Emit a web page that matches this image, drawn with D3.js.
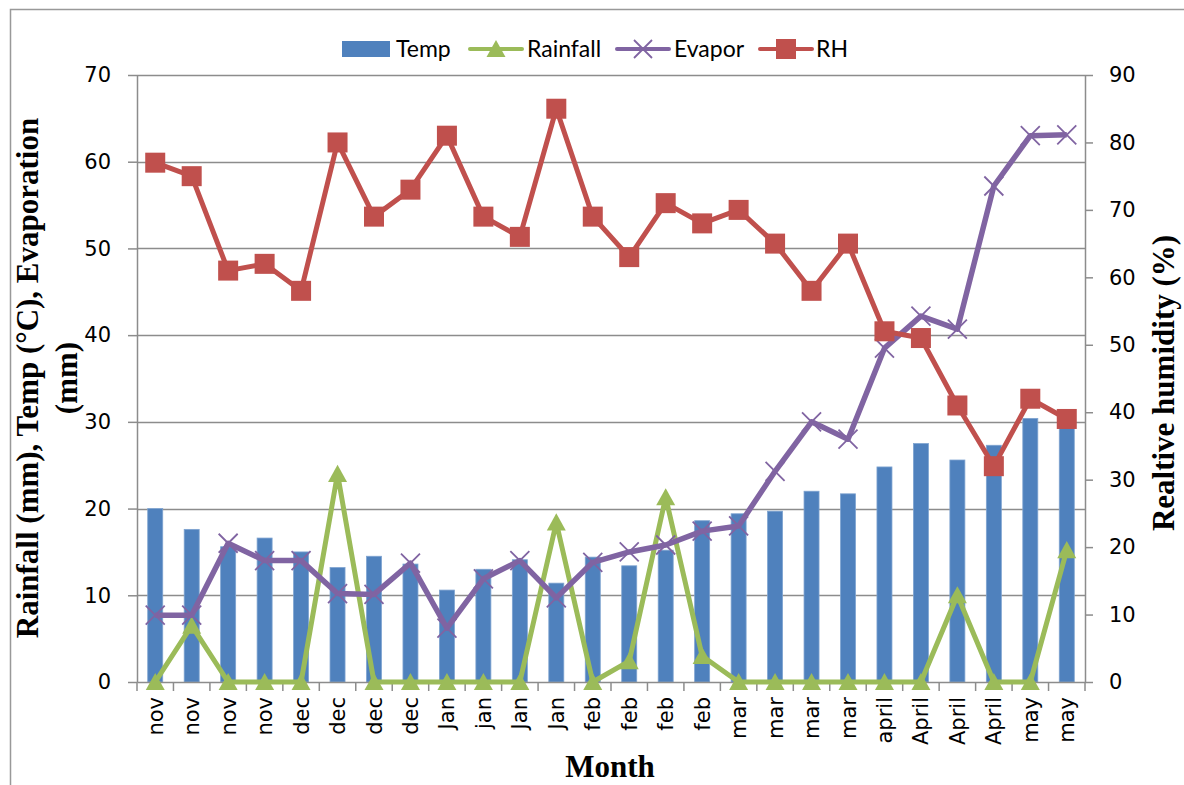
<!DOCTYPE html>
<html>
<head>
<meta charset="utf-8">
<script src="https://cdn.jsdelivr.net/npm/d3@7"></script>
<style>
  html, body { margin: 0; padding: 0; background: #fff; }
  svg { display: block; }
</style>
</head>
<body>
<svg id="chart" width="1184" height="785"></svg>
<script>
// ---- data ----
const categories = ["nov","nov","nov","nov","dec","dec","dec","dec","Jan","jan","Jan","Jan","feb","feb","feb","feb","mar","mar","mar","mar","april","April","April","April","may","may"];
const temp = [20.0,17.6,15.6,16.6,15.0,13.2,14.5,13.6,10.6,13.0,14.1,11.4,14.4,13.4,15.2,18.6,19.4,19.7,22.0,21.7,24.8,27.5,25.6,27.3,30.4,30.0];
const rainfall = [0,6.5,0,0,0,24.0,0,0,0,0,0,18.4,0,2.4,21.3,3.0,0,0,0,0,0,0,10.0,0,0,15.2];
const evapor = [7.7,7.7,16.0,14.0,14.0,10.2,10.1,13.7,6.2,11.9,14.0,9.7,13.8,15.0,15.8,17.4,18.0,24.3,30.0,28.0,38.5,42.2,40.7,57.2,63.0,63.1];
const rh = [77,75,61,62,58,80,69,73,81,69,66,85,69,63,71,68,70,65,58,65,52,51,41,32,42,39];
const leftTicks = [0,10,20,30,40,50,60,70];
const rightTicks = [0,10,20,30,40,50,60,70,80,90];
const seriesNames = ["Temp","Rainfall","Evapor","RH"];

// ---- layout ----
const svg = d3.select("#chart");
const L = 137, R = 1085, T = 75, B = 682;
const C = { temp:"#4F81BD", rain:"#9BBB59", evap:"#8064A2", rh:"#C0504D", axis:"#8C8C8C" };
const idx = categories.map((d,i)=>i);

const x = d3.scaleBand().domain(idx).range([L, R]).paddingInner(0).paddingOuter(0);
const yL = d3.scaleLinear().domain([0,70]).range([B, T]);
const yR = d3.scaleLinear().domain([0,90]).range([B, T]);
const cx = i => x(i) + x.bandwidth()/2;

// outer frame
svg.append("rect").attr("x",10.5).attr("y",9.5).attr("width",1200).attr("height",800)
  .attr("fill","none").attr("stroke","#999").attr("stroke-width",1.5);

// gridlines
svg.append("g").selectAll("line").data(leftTicks.filter(d=>d>0)).join("line")
  .attr("x1",L).attr("x2",R).attr("y1",d=>Math.round(yL(d))+0.5).attr("y2",d=>Math.round(yL(d))+0.5)
  .attr("stroke",C.axis).attr("stroke-width",1.5);

// bars
const bw = 15;
svg.append("g").selectAll("rect").data(temp).join("rect")
  .attr("x",(d,i)=>cx(i)-bw/2).attr("width",bw)
  .attr("y",d=>yL(d)).attr("height",d=>B-yL(d))
  .attr("fill",C.temp).attr("stroke","#7EA3D0").attr("stroke-width",0.8);

// axes
const axisStyle = g => {
  g.select(".domain").attr("stroke",C.axis).attr("stroke-width",1.5);
  g.selectAll(".tick line").attr("stroke",C.axis).attr("stroke-width",1.5);
  g.selectAll(".tick text").attr("fill","#000").attr("font-family","DejaVu Sans, Verdana, sans-serif").attr("font-size","21px");
};
const gL = svg.append("g").attr("transform",`translate(${L},0)`)
  .call(d3.axisLeft(yL).tickValues(leftTicks).tickSize(9).tickPadding(17).tickSizeOuter(0));
axisStyle(gL);
const gR = svg.append("g").attr("transform",`translate(${R},0)`)
  .call(d3.axisRight(yR).tickValues(rightTicks).tickSize(8).tickPadding(16).tickSizeOuter(0));
axisStyle(gR);

// x axis
const gX = svg.append("g").attr("transform",`translate(0,${B})`)
  .call(d3.axisBottom(x).tickFormat(i=>categories[i]).tickSize(0).tickSizeOuter(0));
gX.select(".domain").attr("stroke",C.axis).attr("stroke-width",1.5);
gX.selectAll(".tick text")
  .attr("font-family","DejaVu Sans, Verdana, sans-serif").attr("font-size","21px").attr("fill","#000")
  .attr("transform","rotate(-90)").attr("text-anchor","end").attr("dy","0.36em").attr("x",-15).attr("y",0);
// category boundary ticks
const bounds = d3.range(categories.length+1).map(i => i<categories.length ? x(i) : R);
svg.append("g").selectAll("line").data(bounds).join("line")
  .attr("x1",d=>d).attr("x2",d=>d).attr("y1",B).attr("y2",B+9)
  .attr("stroke",C.axis).attr("stroke-width",1.5);

// lines
const lineL = d3.line().x((d,i)=>cx(i)).y(d=>yL(d));
const lineR = d3.line().x((d,i)=>cx(i)).y(d=>yR(d));

function triPath(s){ const h=s*0.85; return `M0,${-h/2-1}L${s/2},${h/2}L${-s/2},${h/2}Z`; }
function xPath(s){ const h=s/2; return `M${-h},${-h}L${h},${h}M${-h},${h}L${h},${-h}`; }

// Rainfall
svg.append("path").datum(rainfall).attr("d",lineL).attr("fill","none")
  .attr("stroke",C.rain).attr("stroke-width",5).attr("stroke-linejoin","round");
svg.append("g").selectAll("path").data(rainfall).join("path")
  .attr("transform",(d,i)=>`translate(${cx(i)},${yL(d)})`).attr("d",triPath(19)).attr("fill",C.rain);

// Evapor
svg.append("path").datum(evapor).attr("d",lineL).attr("fill","none")
  .attr("stroke",C.evap).attr("stroke-width",5.5).attr("stroke-linejoin","round");
svg.append("g").selectAll("path").data(evapor).join("path")
  .attr("transform",(d,i)=>`translate(${cx(i)},${yL(d)})`).attr("d",xPath(19))
  .attr("stroke",C.evap).attr("stroke-width",1.8).attr("fill","none");

// RH
svg.append("path").datum(rh).attr("d",lineR).attr("fill","none")
  .attr("stroke",C.rh).attr("stroke-width",5).attr("stroke-linejoin","round");
svg.append("g").selectAll("rect").data(rh).join("rect")
  .attr("x",(d,i)=>cx(i)-10).attr("y",d=>yR(d)-10).attr("width",20).attr("height",20).attr("fill",C.rh);

// axis titles
const titleFont = "Liberation Serif, Times New Roman, serif";
svg.append("text").attr("transform",`translate(610,777)`).attr("text-anchor","middle")
  .attr("font-family",titleFont).attr("font-weight","bold").attr("font-size","31px").text("Month");
svg.append("text").attr("transform",`translate(38,378) rotate(-90)`).attr("text-anchor","middle")
  .attr("font-family",titleFont).attr("font-weight","bold").attr("font-size","31px").text("Rainfall (mm), Temp (°C), Evaporation");
svg.append("text").attr("transform",`translate(77,378) rotate(-90)`).attr("text-anchor","middle")
  .attr("font-family",titleFont).attr("font-weight","bold").attr("font-size","31px").text("(mm)");
svg.append("text").attr("transform",`translate(1174,383) rotate(-90)`).attr("text-anchor","middle")
  .attr("font-family",titleFont).attr("font-weight","bold").attr("font-size","31px").text("Realtive humidity (%)");

// legend
const lg = svg.append("g");
const ly = 49;
const legendFont = "Lato, Open Sans, sans-serif";
const items = [
  {name:seriesNames[0], x:342, tx:396, type:"bar"},
  {name:seriesNames[1], x:470, tx:527, type:"tri"},
  {name:seriesNames[2], x:617, tx:674, type:"x"},
  {name:seriesNames[3], x:760, tx:816, type:"sq"}
];
items.forEach(it=>{
  if(it.type==="bar"){
    lg.append("rect").attr("x",it.x).attr("y",ly-8).attr("width",48).attr("height",16).attr("fill",C.temp);
  } else {
    const col = it.type==="tri"?C.rain:it.type==="x"?C.evap:C.rh;
    lg.append("line").attr("x1",it.x).attr("x2",it.x+52).attr("y1",ly).attr("y2",ly)
      .attr("stroke",col).attr("stroke-width",4).attr("stroke-linecap","round");
    const m = lg.append("g").attr("transform",`translate(${it.x+26},${ly})`);
    if(it.type==="tri") m.append("path").attr("d",triPath(19)).attr("fill",col);
    if(it.type==="x") m.append("path").attr("d",xPath(18)).attr("stroke",col).attr("stroke-width",1.8);
    if(it.type==="sq") m.append("rect").attr("x",-10).attr("y",-10).attr("width",20).attr("height",20).attr("fill",col);
  }
  lg.append("text").attr("x", it.tx).attr("y",ly).attr("dy","0.35em")
    .attr("font-family",legendFont).attr("font-size","23px").attr("fill","#000").text(it.name);
});
</script>
</body>
</html>
